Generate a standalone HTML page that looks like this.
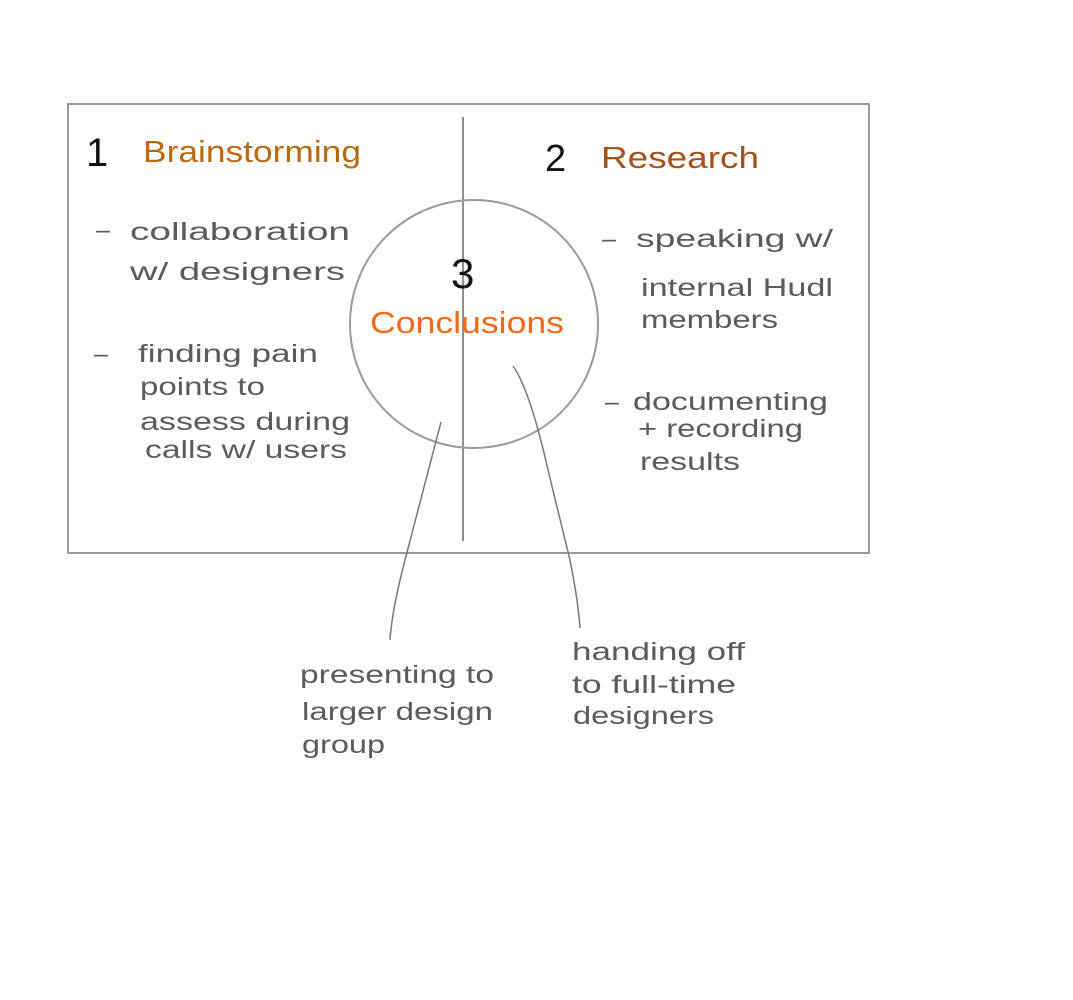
<!DOCTYPE html>
<html><head><meta charset="utf-8"><style>
html,body{margin:0;padding:0;background:#fff;}
svg{display:block}
text{font-family:"Liberation Sans",sans-serif;}
.g{fill:#5a5a5f;font-size:25px;}
</style></head><body>
<svg width="1073" height="1000" viewBox="0 0 1073 1000">
<rect x="68" y="104" width="801" height="449" fill="none" stroke="#9a9a9a" stroke-width="2"/>
<line x1="463" y1="117" x2="463" y2="541" stroke="#8f8f8f" stroke-width="2"/>
<circle cx="474" cy="324" r="124" fill="none" stroke="#9a9a9a" stroke-width="2"/>
<path d="M441 422 L405 560 Q392 610 390 640" fill="none" stroke="#777" stroke-width="1.5"/>
<path d="M513 366 Q530 390 548 470 L570 560 Q578 600 580 628" fill="none" stroke="#777" stroke-width="1.5"/>

<text x="86" y="166" font-size="40" fill="#111" font-weight="300">1</text>
<text x="143" y="162" font-size="31" fill="#b86a12" textLength="218" lengthAdjust="spacingAndGlyphs">Brainstorming</text>
<text x="545" y="171" font-size="38" fill="#111">2</text>
<text x="601" y="168" font-size="31" fill="#a4521a" textLength="158" lengthAdjust="spacingAndGlyphs">Research</text>
<text x="451" y="288" font-size="42" fill="#111">3</text>
<text x="370" y="333" font-size="31" fill="#f06a1a" textLength="194" lengthAdjust="spacingAndGlyphs">Conclusions</text>

<g class="g">
<text x="96" y="238">–</text>
<text x="130" y="240" textLength="220" lengthAdjust="spacingAndGlyphs">collaboration</text>
<text x="130" y="280" textLength="215" lengthAdjust="spacingAndGlyphs">w/ designers</text>
<text x="94" y="362">–</text>
<text x="138" y="362" textLength="180" lengthAdjust="spacingAndGlyphs">finding pain</text>
<text x="140" y="395" textLength="125" lengthAdjust="spacingAndGlyphs">points to</text>
<text x="140" y="430" textLength="210" lengthAdjust="spacingAndGlyphs">assess during</text>
<text x="145" y="458" textLength="202" lengthAdjust="spacingAndGlyphs">calls w/ users</text>

<text x="602" y="247">–</text>
<text x="636" y="247" textLength="197" lengthAdjust="spacingAndGlyphs">speaking w/</text>
<text x="641" y="296" textLength="192" lengthAdjust="spacingAndGlyphs">internal Hudl</text>
<text x="641" y="328" textLength="137" lengthAdjust="spacingAndGlyphs">members</text>
<text x="605" y="410">–</text>
<text x="633" y="410" textLength="195" lengthAdjust="spacingAndGlyphs">documenting</text>
<text x="638" y="437" textLength="165" lengthAdjust="spacingAndGlyphs">+ recording</text>
<text x="640" y="470" textLength="100" lengthAdjust="spacingAndGlyphs">results</text>

<text x="300" y="683" textLength="194" lengthAdjust="spacingAndGlyphs">presenting to</text>
<text x="302" y="720" textLength="191" lengthAdjust="spacingAndGlyphs">larger design</text>
<text x="302" y="753" textLength="83" lengthAdjust="spacingAndGlyphs">group</text>

<text x="572" y="660" textLength="173" lengthAdjust="spacingAndGlyphs">handing off</text>
<text x="572" y="693" textLength="164" lengthAdjust="spacingAndGlyphs">to full-time</text>
<text x="573" y="724" textLength="141" lengthAdjust="spacingAndGlyphs">designers</text>
</g>
</svg>
</body></html>
